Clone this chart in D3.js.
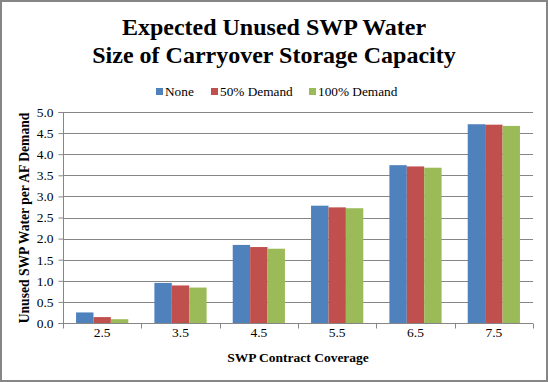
<!DOCTYPE html>
<html><head><meta charset="utf-8">
<script src="https://cdn.jsdelivr.net/npm/d3@7"></script>
<style>body{margin:0;background:#fff}svg{display:block}text{font-family:"Liberation Serif","Times New Roman",serif}</style>
</head><body><div id="c"></div>
<script>
const categories = ["2.5","3.5","4.5","5.5","6.5","7.5"];
const seriesNames = ["None","50% Demand","100% Demand"];
const none = [0.25,0.95,1.85,2.78,3.74,4.71];
const demand50 = [0.14,0.89,1.80,2.74,3.71,4.70];
const demand100 = [0.09,0.84,1.76,2.72,3.68,4.67];
const yTicks = [0,0.5,1.0,1.5,2.0,2.5,3.0,3.5,4.0,4.5,5.0];
const colors = ["#4F81BD","#C0504D","#9BBB59"];
const series = [none, demand50, demand100];

const W=548,H=382;
const svg=d3.select("#c").append("svg").attr("width",W).attr("height",H);
svg.append("rect").attr("x",1).attr("y",1).attr("width",W-2).attr("height",H-2).attr("fill","#fff").attr("stroke","#868686").attr("stroke-width",2);

const m={l:63,r:533,t:112,b:323};
const x=d3.scaleBand().domain(categories).range([m.l,m.r]).paddingInner(0).paddingOuter(0);
const xs=d3.scaleBand().domain(d3.range(3)).range([0,x.bandwidth()]).paddingInner(0).paddingOuter(0.75);
const y=d3.scaleLinear().domain([0,5]).range([m.b,m.t]);

// gridlines
svg.append("g").selectAll("line").data(yTicks.slice(1)).join("line")
  .attr("x1",m.l).attr("x2",m.r).attr("y1",d=>Math.round(y(d))+0.5).attr("y2",d=>Math.round(y(d))+0.5)
  .attr("stroke","#868686").attr("stroke-width",1);

// bars
series.forEach((vals,si)=>{
  svg.append("g").selectAll("rect").data(vals).join("rect")
    .attr("x",(d,i)=>x(categories[i])+xs(si))
    .attr("width",xs.bandwidth())
    .attr("y",d=>y(d)).attr("height",d=>y(0)-y(d))
    .attr("fill",colors[si]);
});

// y axis
const ya=svg.append("g").attr("transform",`translate(${m.l+0.5},0)`)
  .call(d3.axisLeft(y).tickValues(yTicks).tickFormat(d3.format(".1f")).tickSize(5).tickPadding(5));
ya.select(".domain").attr("stroke","#868686").attr("d",`M-5,${m.t+0.5}H0V${m.b+0.5}H-5`);
ya.selectAll(".tick line").attr("stroke","#868686");
ya.selectAll(".tick text").style("font-size","13.5px").attr("fill","#000");

// x axis
const xa=svg.append("g").attr("transform",`translate(0,${m.b+0.5})`);
xa.append("line").attr("x1",m.l).attr("x2",m.r).attr("stroke","#868686");
xa.selectAll(".tk").data(d3.range(categories.length+1)).join("line")
  .attr("x1",i=>Math.round(m.l+i*x.step())+0.5).attr("x2",i=>Math.round(m.l+i*x.step())+0.5)
  .attr("y1",0).attr("y2",5).attr("stroke","#868686");
xa.selectAll("text").data(categories).join("text")
  .attr("x",d=>x(d)+x.bandwidth()/2).attr("y",13).attr("text-anchor","middle")
  .style("font-size","13.5px").text(d=>d);

// titles
svg.append("text").attr("x",274).attr("y",35).attr("text-anchor","middle").attr("font-size",24).attr("font-weight","bold").text("Expected Unused SWP Water");
svg.append("text").attr("x",274).attr("y",63).attr("text-anchor","middle").attr("font-size",24).attr("font-weight","bold").text("Size of Carryover Storage Capacity");
svg.append("text").attr("x",298).attr("y",362).attr("text-anchor","middle").attr("font-size",13.5).attr("font-weight","bold").text("SWP Contract Coverage");
svg.append("text").attr("transform","translate(29,218) rotate(-90)").attr("text-anchor","middle").attr("font-size",13.6).attr("font-weight","bold").text("Unused SWP Water per AF Demand");

// legend
const lx=[156,211,309];
seriesNames.forEach((n,i)=>{
  svg.append("rect").attr("x",lx[i]).attr("y",88).attr("width",7).attr("height",7).attr("fill",colors[i]);
  svg.append("text").attr("x",lx[i]+9).attr("y",96).attr("font-size",13.3).text(n);
});
</script></body></html>
